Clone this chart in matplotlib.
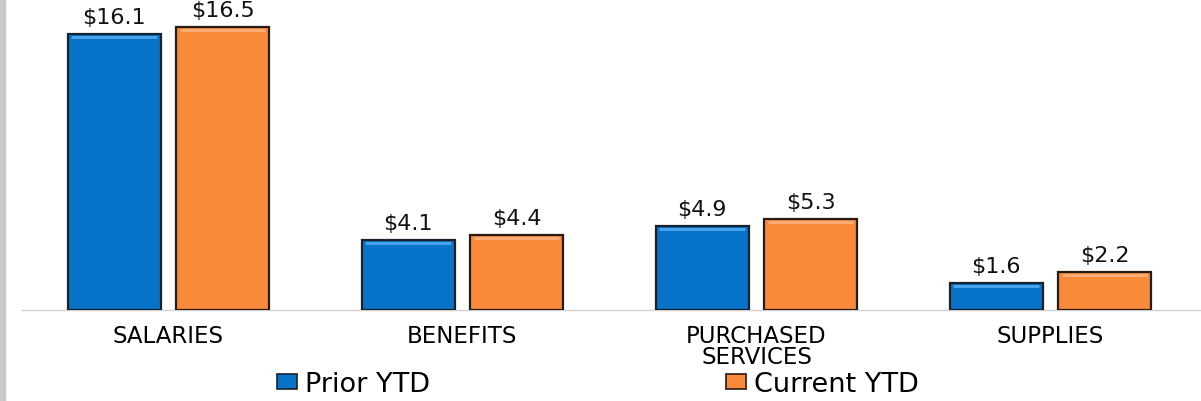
import numpy as np
import matplotlib.pyplot as plt
from matplotlib.patches import Patch
from matplotlib.transforms import offset_copy

plt.rcParams['font.family'] = ['DejaVu Sans']

# Data (millions)
categories = ['SALARIES', 'BENEFITS', 'PURCHASED\nSERVICES', 'SUPPLIES']
prior_ytd = [16.1, 4.1, 4.9, 1.6]
current_ytd = [16.5, 4.4, 5.3, 2.2]
series_names = ['Prior YTD', 'Current YTD']

blue = '#0673C9'
orange = '#F98A3A'

W, H = 1201, 402
fig = plt.figure(figsize=(W / 100, H / 100), dpi=100)

# grey strip on the left edge
fig.patches.append(plt.Rectangle((0, 0), 5 / W, 1, transform=fig.transFigure,
                                 color='#c8c8c8', zorder=0))

ax = fig.add_axes([22 / W, (H - 311) / H, (W - 22) / W, 311 / H])

x = np.arange(len(categories))
bw = 0.316
off = 0.184

b1 = ax.bar(x - off, prior_ytd, bw, color=blue, edgecolor='#18222c', linewidth=1.6, zorder=3)
b2 = ax.bar(x + off, current_ytd, bw, color=orange, edgecolor='#2a1a10', linewidth=1.6, zorder=3)

# light bevel line just under the top edge of every bar
shift = offset_copy(ax.transData, fig=fig, x=0, y=-3, units='dots')
for bars, hi in ((b1, '#4da6ee'), (b2, '#fdb07a')):
    for rect in bars:
        x0 = rect.get_x() + 0.012
        x1 = rect.get_x() + rect.get_width() - 0.012
        ax.plot([x0, x1], [rect.get_height()] * 2, color=hi, lw=2,
                transform=shift, zorder=4, solid_capstyle='butt')

for bars, vals in ((b1, prior_ytd), (b2, current_ytd)):
    for rect, v in zip(bars, vals):
        ax.annotate(f'${v:.1f}', (rect.get_x() + rect.get_width() / 2, v),
                    xytext=(0, 5), textcoords='offset points',
                    ha='center', va='bottom', fontsize=16, color='#111111')

ax.set_xlim(-0.498, 3.512)
ax.set_ylim(0, 18.13)
ax.set_xticks(x)
ax.set_xticklabels(categories, fontsize=16.5, linespacing=0.92)
ax.tick_params(axis='x', length=0, pad=10)
ax.set_yticks([])
for s in ('top', 'right', 'left'):
    ax.spines[s].set_visible(False)
ax.spines['bottom'].set_color('#d0d0d0')
ax.spines['bottom'].set_linewidth(1)
ax.patch.set_alpha(0)

handles = [Patch(facecolor=blue, edgecolor='#18222c', linewidth=1.2),
           Patch(facecolor=orange, edgecolor='#2a1a10', linewidth=1.2)]
fig.legend(handles, series_names, loc='center left',
           bbox_to_anchor=(277 / W, 1 - 385 / H), ncol=2, frameon=False,
           fontsize=19.5, handlelength=0.74, handleheight=0.52,
           handletextpad=0.3, columnspacing=10.9,
           borderpad=0, borderaxespad=0)

fig.savefig('out.png', dpi=100)
